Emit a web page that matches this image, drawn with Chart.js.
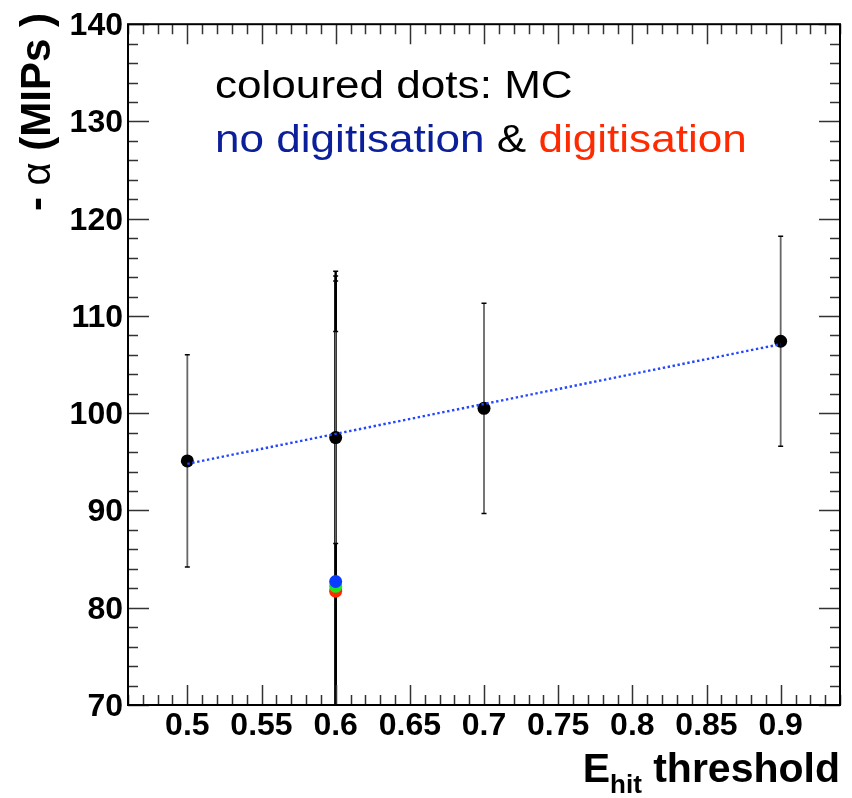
<!DOCTYPE html>
<html>
<head>
<meta charset="utf-8">
<script src="https://cdn.jsdelivr.net/npm/chart.js@4.4.1/dist/chart.umd.min.js"></script>
<style>
  html, body { margin: 0; padding: 0; background: #fff; }
  #wrap { width: 852px; height: 798px; }
</style>
</head>
<body>
<div id="wrap"><canvas id="alphaChart" width="852" height="798"></canvas></div>
<script>
// data points: -alpha vs hit energy threshold
const thresholds = [0.5, 0.6, 0.7, 0.9];
const alphaValues = [95.1, 97.5, 100.5, 107.4];
const alphaErrors = [10.9, 10.9, 10.8, 10.8];

// MC points, all at threshold 0.6
const mcThreshold = [0.6];
const mcNoDigi = [82.7];
const mcNoDigiErr = [31.9];
const mcMid = [82.2];
const mcMidErr = [31.9];
const mcDigi = [81.7];
const mcDigiErr = [31.9];

// straight-line fit through the data points
const fitX = [0.5, 0.9];
const fitY = [94.8, 107.1];

// axis ranges and tick labels
const xRange = [0.46, 0.94];
const yRange = [70, 140];
const xTickValues = [0.5, 0.55, 0.6, 0.65, 0.7, 0.75, 0.8, 0.85, 0.9];
const yTickValues = [70, 80, 90, 100, 110, 120, 130, 140];

const FONT = '"Liberation Sans", Arial, Helvetica, sans-serif';

function pts(xs, ys) {
    return xs.map((x, i) => ({ x: x, y: ys[i] }));
}

// vertical error bars with small caps, clipped to the frame
function drawErrorBars(ctx, chart, xs, ys, errs, color, width, cap) {
    const sx = chart.scales.x, sy = chart.scales.y;
    xs.forEach((x, i) => {
        const px = sx.getPixelForValue(x);
        const top = sy.getPixelForValue(ys[i] + errs[i]);
        const bot = sy.getPixelForValue(ys[i] - errs[i]);
        ctx.strokeStyle = color;
        ctx.lineWidth = width;
        ctx.beginPath();
        ctx.moveTo(px, top);
        ctx.lineTo(px, bot);
        ctx.stroke();
        ctx.lineWidth = 1.5;
        ctx.strokeStyle = '#000';
        ctx.beginPath();
        ctx.moveTo(px - cap, top); ctx.lineTo(px + cap, top);
        ctx.moveTo(px - cap, bot); ctx.lineTo(px + cap, bot);
        ctx.stroke();
    });
}

const rootStyle = {
    id: 'rootStyle',
    beforeDatasetsDraw(chart) {
        const ctx = chart.ctx, a = chart.chartArea;
        ctx.save();
        ctx.beginPath();
        ctx.rect(a.left, a.top, a.right - a.left, a.bottom - a.top);
        ctx.clip();
        drawErrorBars(ctx, chart, mcThreshold, mcDigi, mcDigiErr, '#000', 2.4, 2.5);
        drawErrorBars(ctx, chart, mcThreshold, mcMid, mcMidErr, '#000', 2.4, 2.5);
        drawErrorBars(ctx, chart, mcThreshold, mcNoDigi, mcNoDigiErr, '#000', 2.4, 2.5);
        drawErrorBars(ctx, chart, thresholds, alphaValues, alphaErrors, '#666', 1.8, 2.5);
        ctx.restore();
    },
    afterDatasetsDraw(chart) {
        const ctx = chart.ctx, a = chart.chartArea;
        const sx = chart.scales.x, sy = chart.scales.y;
        ctx.save();
        ctx.strokeStyle = '#333';
        ctx.lineWidth = 1.5;
        ctx.beginPath();
        // x ticks every 0.01, long ones every 0.05, on bottom and top
        for (let i = Math.ceil(xRange[0] * 100); i <= Math.floor(xRange[1] * 100); i++) {
            const px = Math.round(sx.getPixelForValue(i / 100)) + 0.5;
            const len = i % 5 === 0 ? 20 : 10;
            ctx.moveTo(px, a.bottom); ctx.lineTo(px, a.bottom - len);
            ctx.moveTo(px, a.top); ctx.lineTo(px, a.top + len);
        }
        // y ticks every 2, long ones every 10, on left and right
        for (let v = yRange[0]; v <= yRange[1]; v += 2) {
            const py = Math.round(sy.getPixelForValue(v)) + 0.5;
            const len = v % 10 === 0 ? 21 : 10;
            ctx.moveTo(a.left, py); ctx.lineTo(a.left + len, py);
            ctx.moveTo(a.right, py); ctx.lineTo(a.right - len, py);
        }
        ctx.stroke();
        ctx.strokeStyle = '#000';
        ctx.lineWidth = 2;
        ctx.strokeRect(a.left, a.top, a.right - a.left, a.bottom - a.top);
        ctx.restore();
    },
    afterDraw(chart) {
        const ctx = chart.ctx;
        ctx.save();
        ctx.textBaseline = 'alphabetic';
        ctx.textAlign = 'left';

        // annotation text
        ctx.save();
        ctx.translate(215, 98);
        ctx.scale(1.16, 1);
        ctx.font = '38px ' + FONT;
        ctx.fillStyle = '#000';
        ctx.fillText('coloured dots: MC', 0, 0);
        let x = 0;
        const parts = [['no digitisation', '#0b1f9a'], [' & ', '#000'], ['digitisation', '#ff2a00']];
        parts.forEach(p => {
            ctx.fillStyle = p[1];
            ctx.fillText(p[0], x, 54);
            x += ctx.measureText(p[0]).width;
        });
        ctx.restore();

        // y title, rotated, top aligned with the frame
        ctx.save();
        ctx.translate(50, 13);
        ctx.rotate(-Math.PI / 2);
        const yParts = [['- ', 'bold 42px '], ['\u03b1', '40px '], [' (MIPs )', 'bold 42px ']];
        let total = 0;
        yParts.forEach(p => { ctx.font = p[1] + FONT; total += ctx.measureText(p[0]).width; });
        let yx = -total;
        ctx.fillStyle = '#000';
        yParts.forEach(p => {
            ctx.font = p[1] + FONT;
            ctx.fillText(p[0], yx, 0);
            yx += ctx.measureText(p[0]).width;
        });
        ctx.restore();

        // x title with subscript, right aligned to the frame
        ctx.fillStyle = '#000';
        const big = 'bold 41px ' + FONT, small = 'bold 26px ' + FONT;
        ctx.font = big;
        const wE = ctx.measureText('E').width;
        const wT = ctx.measureText(' threshold').width;
        ctx.font = small;
        const wS = ctx.measureText('hit').width;
        let tx = chart.chartArea.right - (wE + wS + wT);
        ctx.font = big;
        ctx.fillText('E', tx, 782);
        tx += wE;
        ctx.font = small;
        ctx.fillText('hit', tx, 793);
        tx += wS;
        ctx.font = big;
        ctx.fillText(' threshold', tx, 782);

        ctx.restore();
    }
};

const tickFont = { family: FONT, size: 32, weight: 'bold' };

new Chart(document.getElementById('alphaChart'), {
    type: 'scatter',
    data: {
        datasets: [
            {
                type: 'line',
                label: 'fit',
                data: pts(fitX, fitY),
                borderColor: '#2446ff',
                borderWidth: 2.4,
                borderDash: [2.4, 2.6],
                pointRadius: 0,
                fill: false,
                order: 0
            },
            {
                label: 'data',
                data: pts(thresholds, alphaValues),
                backgroundColor: '#000',
                borderColor: '#000',
                pointRadius: 6.5,
                borderWidth: 0,
                order: 1
            },
            {
                label: 'no digitisation',
                data: pts(mcThreshold, mcNoDigi),
                backgroundColor: '#0a3cff',
                pointRadius: 6.5,
                borderWidth: 0,
                order: 2
            },
            {
                label: 'mc',
                data: pts(mcThreshold, mcMid),
                backgroundColor: '#1ee51e',
                pointRadius: 6.5,
                borderWidth: 0,
                order: 3
            },
            {
                label: 'digitisation',
                data: pts(mcThreshold, mcDigi),
                backgroundColor: '#ff2a00',
                pointRadius: 6.5,
                borderWidth: 0,
                order: 4
            }
        ]
    },
    options: {
        responsive: false,
        animation: false,
        layout: { padding: { top: 14, right: 12, left: 0, bottom: 0 } },
        plugins: {
            legend: { display: false },
            tooltip: { enabled: false }
        },
        scales: {
            x: {
                type: 'linear',
                min: xRange[0],
                max: xRange[1],
                grid: { display: false, drawTicks: false },
                border: { display: false },
                afterBuildTicks(scale) { scale.ticks = xTickValues.map(v => ({ value: v })); },
                afterFit(scale) { scale.height = 93; },
                ticks: {
                    padding: 2,
                    color: '#000',
                    font: tickFont,
                    maxRotation: 0,
                    autoSkip: false,
                    callback: v => String(+v.toFixed(2))
                }
            },
            y: {
                type: 'linear',
                min: yRange[0],
                max: yRange[1],
                grid: { display: false, drawTicks: false },
                border: { display: false },
                afterBuildTicks(scale) { scale.ticks = yTickValues.map(v => ({ value: v })); },
                afterFit(scale) { scale.width = 128; },
                ticks: {
                    padding: 5,
                    color: '#000',
                    font: tickFont,
                    labelOffset: 2,
                    autoSkip: false,
                    callback: v => String(v)
                }
            }
        }
    },
    plugins: [rootStyle]
});
</script>
</body>
</html>
